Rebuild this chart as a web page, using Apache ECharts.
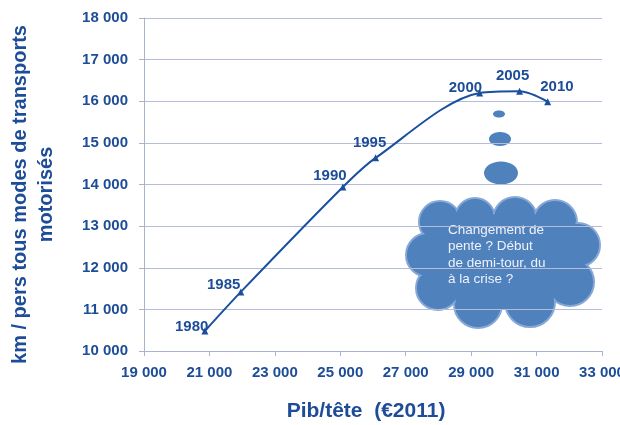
<!DOCTYPE html>
<html>
<head>
<meta charset="utf-8">
<script src="https://cdn.jsdelivr.net/npm/echarts@6/dist/echarts.min.js"></script>
<style>
  html, body { margin: 0; padding: 0; background: #fff; }
  #chart { width: 620px; height: 425px; }
</style>
</head>
<body>
<div id="chart"></div>
<script>
const years = ['1980', '1985', '1990', '1995', '2000', '2005', '2010']
const pibParTete = [20860, 21960, 25080, 26080, 29260, 30480, 31340]
const kmParPers = [10480, 11420, 13940, 14640, 16200, 16240, 15990]
const labelPos = ['left', 'left', 'top', 'top', 'left', 'top', 'right']
const cloudLines = ['Changement de', 'pente ? Début', 'de demi-tour, du', 'à la crise ?']

const blue = '#1d4c98'
const font = '"Liberation Sans", Arial, sans-serif'

const fmt = (v) => String(v).replace(/\B(?=(\d{3})+(?!\d))/g, ' ')

const points = pibParTete.map((x, i) => ({
  value: [x, kmParPers[i]],
  label: { position: labelPos[i] },
}))
const labelOffsets = [[12, -4], [8, -7], [-13, 5], [-6, 1], [11, -5], [-7, 1], [-16, -15]]
points.forEach((p, i) => { p.label.offset = labelOffsets[i] })

// cloud bumps (pixel space, decoration only)
const bumps = [
  [440, 222, 21], [475, 218, 20], [515, 219, 22], [555, 222, 22],
  [578, 245, 22], [570, 282, 24], [530, 302, 25], [478, 304, 24],
  [438, 288, 22], [428, 255, 22],
]
const cloud = []
bumps.forEach(([cx, cy, r]) => cloud.push({
  type: 'circle', shape: { cx, cy, r },
  style: { fill: '#4f81bd', stroke: '#86a8d6', lineWidth: 2 },
}))
bumps.forEach(([cx, cy, r]) => cloud.push({
  type: 'circle', shape: { cx, cy, r: r - 1.5 },
  style: { fill: '#4f81bd' },
}))
cloud.push({ type: 'ellipse', shape: { cx: 503, cy: 262, rx: 76, ry: 48 }, style: { fill: '#4f81bd' } })

const myChart = echarts.init(document.getElementById('chart'))
myChart.setOption({
  animation: false,
  grid: { left: 144, right: 18, top: 18, bottom: 74, outerBoundsMode: 'none' },
  xAxis: {
    type: 'value', min: 19000, max: 33000, interval: 2000,
    name: 'Pib/tête  (€2011)', nameLocation: 'middle', nameGap: 50,
    nameTextStyle: { color: blue, fontFamily: font, fontWeight: 'bold', fontSize: 21, padding: [0, 14, 0, 0] },
    axisLine: { show: true, lineStyle: { color: '#a9b2d0' } },
    axisTick: { show: true, length: 5, lineStyle: { color: '#a9b2d0' } },
    axisLabel: { color: blue, fontFamily: font, fontWeight: 'bold', fontSize: 15, margin: 14, formatter: fmt },
    splitLine: { show: false },
  },
  yAxis: {
    type: 'value', min: 10000, max: 18000, interval: 1000,
    name: 'km / pers tous modes de transports\nmotorisés', nameLocation: 'middle', nameGap: 85,
    nameTextStyle: { color: blue, fontFamily: font, fontWeight: 'bold', fontSize: 20, lineHeight: 26, padding: [0, 20, 0, 0] },
    axisLine: { show: true, lineStyle: { color: '#a9b2d0' } },
    axisTick: { show: true, length: 5, lineStyle: { color: '#a9b2d0' } },
    axisLabel: { color: blue, fontFamily: font, fontWeight: 'bold', fontSize: 15, margin: 16, formatter: fmt },
    splitLine: { show: true, lineStyle: { color: '#b4bcd8', width: 1.2 } },
  },
  series: [{
    type: 'line',
    data: points,
    smooth: 0.3,
    symbol: 'triangle',
    symbolSize: 7,
    lineStyle: { color: '#1a4fa0', width: 2 },
    itemStyle: { color: '#1a4fa0' },
    label: {
      show: true,
      formatter: (p) => years[p.dataIndex],
      color: blue, fontFamily: font, fontWeight: 'bold', fontSize: 15,
    },
    emphasis: { disabled: true },
  }],
  graphic: [
    { type: 'ellipse', shape: { cx: 499, cy: 114, rx: 6, ry: 3.5 }, style: { fill: '#4f81bd' } },
    { type: 'ellipse', shape: { cx: 500, cy: 139, rx: 11, ry: 7 }, style: { fill: '#4f81bd' } },
    { type: 'ellipse', shape: { cx: 501, cy: 173, rx: 17, ry: 11.5 }, style: { fill: '#4f81bd' } },
    ...cloud,
    {
      type: 'text', left: 448, top: 222,
      style: {
        text: cloudLines.join('\n'), fill: '#eef2fa',
        font: '13.5px ' + font, lineHeight: 16.5,
      },
    },
  ],
})
</script>
</body>
</html>
